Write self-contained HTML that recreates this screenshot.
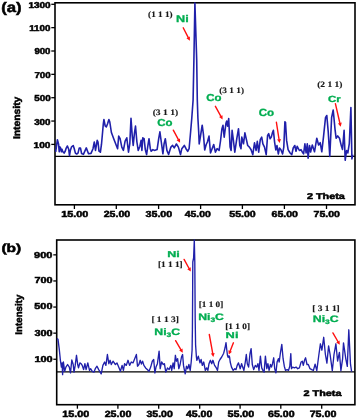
<!DOCTYPE html>
<html><head><meta charset="utf-8"><style>
html,body{margin:0;padding:0;background:#fff;}
body{width:357px;height:418px;overflow:hidden;}
svg{display:block;will-change:transform;}
</style></head><body>
<svg width="357" height="418" viewBox="0 0 357 418">
<rect width="357" height="418" fill="#fff"/>
<rect x="55" y="2.8" width="300.0" height="202.0" fill="none" stroke="#000" stroke-width="1.6"/>
<line x1="55.00" y1="156.40" x2="355.00" y2="156.40" stroke="#000" stroke-width="1.3"/>
<line x1="51.30" y1="4.30" x2="55.00" y2="4.30" stroke="#000" stroke-width="1.3"/>
<line x1="51.30" y1="27.65" x2="55.00" y2="27.65" stroke="#000" stroke-width="1.3"/>
<line x1="51.30" y1="51.00" x2="55.00" y2="51.00" stroke="#000" stroke-width="1.3"/>
<line x1="51.30" y1="74.35" x2="55.00" y2="74.35" stroke="#000" stroke-width="1.3"/>
<line x1="51.30" y1="97.70" x2="55.00" y2="97.70" stroke="#000" stroke-width="1.3"/>
<line x1="51.30" y1="121.05" x2="55.00" y2="121.05" stroke="#000" stroke-width="1.3"/>
<line x1="51.30" y1="144.40" x2="55.00" y2="144.40" stroke="#000" stroke-width="1.3"/>
<line x1="74.40" y1="205.00" x2="74.40" y2="209.00" stroke="#000" stroke-width="1.3"/>
<line x1="116.30" y1="205.00" x2="116.30" y2="209.00" stroke="#000" stroke-width="1.3"/>
<line x1="158.60" y1="205.00" x2="158.60" y2="209.00" stroke="#000" stroke-width="1.3"/>
<line x1="200.60" y1="205.00" x2="200.60" y2="209.00" stroke="#000" stroke-width="1.3"/>
<line x1="242.40" y1="205.00" x2="242.40" y2="209.00" stroke="#000" stroke-width="1.3"/>
<line x1="284.40" y1="205.00" x2="284.40" y2="209.00" stroke="#000" stroke-width="1.3"/>
<line x1="326.50" y1="205.00" x2="326.50" y2="209.00" stroke="#000" stroke-width="1.3"/>
<polyline points="55.7,151.8 57.4,139.7 58.6,144.3 59.2,151.8 59.9,146.8 60.7,148.1 61.4,151.8 62.0,149.3 62.7,151.4 64.1,153.1 65.3,151.0 66.2,148.1 67.4,146.0 68.7,149.3 69.5,155.6 70.4,150.2 71.6,146.8 73.2,145.5 74.2,148.5 75.4,153.1 76.7,154.0 78.0,153.1 79.2,148.1 80.5,148.1 81.6,153.5 83.4,154.4 86.3,147.9 88.5,153.8 91.0,153.4 93.0,148.7 94.3,142.0 95.5,150.4 97.2,140.3 98.0,142.0 99.0,151.1 100.4,152.2 101.5,144.2 102.6,132.0 103.3,124.0 103.9,119.5 105.2,126.0 106.3,127.0 107.5,124.0 108.9,119.5 109.8,122.0 111.4,132.5 114.0,139.5 117.6,148.7 118.7,136.1 120.1,138.7 121.8,147.1 123.4,150.4 125.1,141.2 126.8,137.8 128.5,152.1 129.8,143.7 131.0,118.2 132.2,135.3 133.2,145.4 134.4,133.6 135.5,126.0 136.9,142.0 138.2,150.4 139.9,146.2 141.1,140.3 141.9,150.4 142.8,137.8 144.1,138.7 145.3,149.6 146.6,154.6 147.8,146.2 149.0,138.7 150.3,148.7 151.2,151.3 152.9,149.6 154.5,150.4 157.1,149.6 158.7,138.7 159.9,131.9 161.3,142.0 162.9,153.8 164.1,143.7 165.3,138.7 166.9,150.4 168.6,154.4 170.9,147.1 172.6,145.4 174.2,147.9 176.4,144.0 178.4,147.1 180.5,154.6 181.8,148.7 184.3,145.4 186.0,148.7 187.7,151.3 189.1,148.7 190.6,132.0 191.8,118.0 193.1,100.0 193.9,60.0 194.9,3.0 196.7,60.0 197.3,100.0 197.9,118.0 198.7,132.0 199.2,143.9 200.5,136.0 202.2,125.2 203.4,134.0 204.7,150.0 206.2,144.5 207.4,142.0 209.0,136.1 210.5,153.0 212.1,148.7 213.7,144.5 215.4,152.1 217.1,148.7 219.1,150.4 220.5,141.0 221.9,129.0 223.0,125.3 224.2,137.1 225.9,123.6 226.7,121.1 227.6,126.1 228.7,118.6 230.1,147.1 231.1,150.5 232.1,130.3 233.4,140.4 234.8,152.2 236.8,138.7 238.5,128.7 239.8,145.5 241.0,148.8 241.8,137.1 243.5,143.8 244.9,132.9 246.6,140.4 247.7,145.5 249.4,147.1 251.1,149.7 252.8,154.7 254.5,142.9 256.1,150.5 257.3,141.3 258.7,152.2 260.3,139.6 261.7,137.1 262.9,143.8 264.5,147.1 266.2,154.7 267.6,135.4 268.7,133.7 270.1,138.7 271.3,137.1 272.4,132.9 273.4,130.3 274.6,142.1 275.8,150.0 277.0,145.5 278.3,154.0 279.5,148.0 280.9,149.7 282.6,153.9 283.8,147.1 284.9,121.9 285.5,122.4 286.6,140.4 288.1,149.7 290.1,153.0 291.8,154.7 293.2,148.0 294.8,145.5 296.0,151.3 297.2,146.3 299.4,150.5 301.0,149.7 302.4,152.2 303.6,153.9 304.9,143.8 306.1,153.0 307.3,143.8 308.1,158.1 309.5,145.5 310.6,152.0 312.3,145.0 314.5,151.8 316.8,138.2 318.6,145.0 320.2,142.7 321.8,151.8 323.6,135.9 325.5,117.7 326.8,115.5 328.2,131.4 329.8,156.4 331.6,117.7 333.2,110.0 335.0,129.1 336.1,138.2 337.7,135.9 339.5,138.2 341.4,146.1 342.5,149.5 344.1,130.2 345.2,160.3 346.6,150.5 347.8,153.0 349.3,143.7 350.9,107.5 351.9,158.9 352.8,154.7" fill="none" stroke="#2020aa" stroke-width="1.6" stroke-linejoin="round"/>
<line x1="183.2" y1="27.8" x2="188.16" y2="37.42" stroke="#ff1010" stroke-width="1.4" stroke-linecap="round"/>
<polygon points="189.9,40.8 186.43,38.32 189.89,36.53" fill="#ff1010"/>
<line x1="173.3" y1="130.2" x2="178.28" y2="139.36" stroke="#ff1010" stroke-width="1.4" stroke-linecap="round"/>
<polygon points="180.1,142.7 176.57,140.29 180.00,138.43" fill="#ff1010"/>
<line x1="215.4" y1="106.3" x2="220.78" y2="116.16" stroke="#ff1010" stroke-width="1.4" stroke-linecap="round"/>
<polygon points="222.6,119.5 219.07,117.10 222.49,115.23" fill="#ff1010"/>
<line x1="276.4" y1="122.3" x2="279.02" y2="139.24" stroke="#ff1010" stroke-width="1.4" stroke-linecap="round"/>
<polygon points="279.6,143.0 277.09,139.54 280.95,138.95" fill="#ff1010"/>
<line x1="335.4" y1="103.7" x2="339.85" y2="123.00" stroke="#ff1010" stroke-width="1.4" stroke-linecap="round"/>
<polygon points="340.7,126.7 337.95,123.43 341.75,122.56" fill="#ff1010"/>
<rect x="56.7" y="240" width="298.2" height="164.7" fill="none" stroke="#000" stroke-width="1.6"/>
<line x1="56.70" y1="371.80" x2="354.90" y2="371.80" stroke="#000" stroke-width="1.3"/>
<line x1="53.30" y1="254.85" x2="56.70" y2="254.85" stroke="#000" stroke-width="1.3"/>
<line x1="53.30" y1="280.95" x2="56.70" y2="280.95" stroke="#000" stroke-width="1.3"/>
<line x1="53.30" y1="307.05" x2="56.70" y2="307.05" stroke="#000" stroke-width="1.3"/>
<line x1="53.30" y1="333.15" x2="56.70" y2="333.15" stroke="#000" stroke-width="1.3"/>
<line x1="53.30" y1="359.25" x2="56.70" y2="359.25" stroke="#000" stroke-width="1.3"/>
<line x1="77.40" y1="404.70" x2="77.40" y2="408.70" stroke="#000" stroke-width="1.3"/>
<line x1="117.90" y1="404.70" x2="117.90" y2="408.70" stroke="#000" stroke-width="1.3"/>
<line x1="158.70" y1="404.70" x2="158.70" y2="408.70" stroke="#000" stroke-width="1.3"/>
<line x1="199.70" y1="404.70" x2="199.70" y2="408.70" stroke="#000" stroke-width="1.3"/>
<line x1="240.10" y1="404.70" x2="240.10" y2="408.70" stroke="#000" stroke-width="1.3"/>
<line x1="280.80" y1="404.70" x2="280.80" y2="408.70" stroke="#000" stroke-width="1.3"/>
<line x1="321.70" y1="404.70" x2="321.70" y2="408.70" stroke="#000" stroke-width="1.3"/>
<polyline points="57.0,338.5 58.0,339.3 59.2,348.6 60.4,360.3 61.4,367.1 62.1,362.9 62.6,374.6 63.4,362.0 64.7,371.3 65.9,367.1 67.6,364.5 69.3,367.1 70.5,372.9 71.8,360.0 73.2,364.5 74.0,372.1 75.2,365.4 76.5,355.3 77.7,364.5 78.5,367.9 79.9,362.9 81.1,363.7 82.2,365.4 83.6,369.6 84.9,363.7 86.1,369.6 87.8,362.9 89.5,370.4 90.6,368.7 92.3,371.3 94.0,372.1 95.3,368.7 97.0,366.2 98.7,369.6 101.2,373.8 102.9,365.4 104.6,362.0 105.9,365.4 107.4,354.5 108.8,363.7 110.1,360.3 111.3,364.5 113.0,361.2 115.4,364.5 117.0,362.9 118.7,367.1 120.4,371.3 122.1,365.4 123.4,370.4 124.6,363.7 126.3,365.4 128.0,360.3 129.6,365.4 131.3,362.0 133.0,362.9 134.7,358.7 136.4,354.5 137.5,366.2 138.9,364.5 140.2,360.3 141.4,364.0 142.6,361.2 143.9,365.4 145.6,367.9 147.3,369.6 149.0,371.3 150.7,367.1 152.3,361.2 153.7,359.5 154.9,373.0 156.0,367.1 157.4,363.7 159.1,351.1 160.2,368.7 161.6,362.0 163.3,364.5 164.4,363.7 165.8,372.1 167.5,367.9 169.1,369.6 170.8,365.4 171.7,370.4 173.1,362.9 174.2,368.7 175.4,355.3 176.4,361.2 177.6,358.7 178.8,368.7 180.1,364.5 181.5,357.0 182.6,354.5 183.5,365.4 184.3,369.6 185.2,373.8 186.5,366.2 187.7,368.7 188.9,364.5 190.2,370.4 191.2,362.0 192.1,350.0 192.4,330.0 192.6,300.0 192.8,262.0 193.6,258.0 194.3,240.0 194.8,262.0 195.2,320.0 195.6,345.0 196.4,357.0 196.9,360.3 198.3,356.1 200.0,362.9 201.1,359.5 202.3,365.4 203.7,362.0 205.3,370.4 206.7,367.9 207.9,370.4 209.0,363.7 210.4,360.3 211.7,363.7 212.9,360.3 214.6,365.4 216.3,367.9 217.5,370.4 218.7,362.0 220.0,359.5 221.7,357.0 223.7,353.2 225.0,348.0 226.0,342.6 226.8,350.0 227.5,355.5 228.2,357.5 229.0,355.8 229.6,357.0 230.2,362.0 231.5,367.1 233.2,370.4 234.8,368.7 236.0,369.6 237.2,365.4 238.5,362.9 240.2,368.7 241.6,363.7 242.7,367.1 243.9,370.4 245.3,362.0 246.3,354.5 247.3,363.7 248.6,367.1 250.0,353.6 251.1,348.6 252.3,364.5 253.7,369.6 255.3,365.4 256.7,367.1 257.9,363.7 259.0,370.4 260.4,356.1 261.7,367.9 262.9,370.4 264.1,372.1 265.4,356.1 266.8,368.7 267.9,363.7 269.1,370.4 270.5,364.5 271.5,367.1 272.5,363.7 273.7,357.8 274.7,368.7 275.9,372.9 277.1,362.0 278.4,358.7 279.2,362.0 280.4,352.8 281.8,344.4 283.1,358.7 284.3,366.2 285.5,370.4 287.1,369.6 288.5,370.4 289.8,366.2 290.8,353.6 291.5,368.7 292.7,367.1 294.4,367.9 296.1,367.1 297.7,368.7 299.4,367.9 301.1,362.0 302.3,361.2 303.3,365.4 304.5,360.3 305.6,357.8 307.0,364.5 308.3,364.5 310.0,368.7 311.7,369.6 313.4,370.4 315.1,364.2 316.8,370.7 318.9,354.5 320.4,343.8 321.9,350.2 323.7,337.3 325.4,354.5 326.9,363.1 328.6,345.9 330.1,354.5 332.3,370.7 334.0,354.5 335.9,343.8 337.6,361.0 339.4,352.4 340.9,370.7 342.6,358.8 343.5,342.9 345.8,358.8 347.3,366.4 348.8,329.8 350.5,364.2 351.6,371.7" fill="none" stroke="#2020aa" stroke-width="1.35" stroke-linejoin="round"/>
<line x1="184.1" y1="259.4" x2="188.97" y2="268.27" stroke="#ff1010" stroke-width="1.4" stroke-linecap="round"/>
<polygon points="190.8,271.6 187.26,269.21 190.68,267.33" fill="#ff1010"/>
<line x1="175.6" y1="340.7" x2="180.86" y2="349.53" stroke="#ff1010" stroke-width="1.4" stroke-linecap="round"/>
<polygon points="182.8,352.8 179.18,350.53 182.53,348.54" fill="#ff1010"/>
<line x1="209.3" y1="334.5" x2="212.72" y2="353.26" stroke="#ff1010" stroke-width="1.4" stroke-linecap="round"/>
<polygon points="213.4,357 210.80,353.61 214.64,352.91" fill="#ff1010"/>
<line x1="233.4" y1="342.8" x2="230.18" y2="351.06" stroke="#ff1010" stroke-width="1.4" stroke-linecap="round"/>
<polygon points="228.8,354.6 228.36,350.35 232.00,351.77" fill="#ff1010"/>
<line x1="332.9" y1="332.9" x2="337.89" y2="341.51" stroke="#ff1010" stroke-width="1.4" stroke-linecap="round"/>
<polygon points="339.8,344.8 336.21,342.49 339.58,340.53" fill="#ff1010"/>
<text id="a" transform="translate(1.19,11.77) scale(1.1996,1)" font-family="Liberation Sans" text-rendering="geometricPrecision" font-weight="bold" font-size="13.948" fill="#000" stroke="#000" stroke-width="0.5">(a)</text>
<text id="ya1300" transform="translate(28.42,8.01) scale(1.1756,1)" font-family="Liberation Sans" text-rendering="geometricPrecision" font-weight="bold" font-size="8.505" fill="#000" stroke="#000" stroke-width="0.5">1300</text>
<text id="ya1100" transform="translate(29.14,31.38) scale(1.1472,1)" font-family="Liberation Sans" text-rendering="geometricPrecision" font-weight="bold" font-size="8.540" fill="#000" stroke="#000" stroke-width="0.5">1100</text>
<text id="ya900" transform="translate(34.39,54.33) scale(1.1154,1)" font-family="Liberation Sans" text-rendering="geometricPrecision" font-weight="bold" font-size="8.650" fill="#000" stroke="#000" stroke-width="0.5">900</text>
<text id="ya700" transform="translate(34.40,77.65) scale(1.1464,1)" font-family="Liberation Sans" text-rendering="geometricPrecision" font-weight="bold" font-size="8.515" fill="#000" stroke="#000" stroke-width="0.5">700</text>
<text id="ya500" transform="translate(34.22,101.42) scale(1.1499,1)" font-family="Liberation Sans" text-rendering="geometricPrecision" font-weight="bold" font-size="8.570" fill="#000" stroke="#000" stroke-width="0.5">500</text>
<text id="ya300" transform="translate(34.14,124.95) scale(1.1364,1)" font-family="Liberation Sans" text-rendering="geometricPrecision" font-weight="bold" font-size="8.628" fill="#000" stroke="#000" stroke-width="0.5">300</text>
<text id="ya100" transform="translate(33.53,148.35) scale(1.1867,1)" font-family="Liberation Sans" text-rendering="geometricPrecision" font-weight="bold" font-size="8.540" fill="#000" stroke="#000" stroke-width="0.5">100</text>
<text id="xa15" transform="translate(61.29,216.68) scale(1.2370,1)" font-family="Liberation Sans" text-rendering="geometricPrecision" font-weight="bold" font-size="8.752" fill="#000" stroke="#000" stroke-width="0.5">15.00</text>
<text id="xa25" transform="translate(103.64,216.58) scale(1.1909,1)" font-family="Liberation Sans" text-rendering="geometricPrecision" font-weight="bold" font-size="8.920" fill="#000" stroke="#000" stroke-width="0.5">25.00</text>
<text id="xa35" transform="translate(145.49,216.70) scale(1.2224,1)" font-family="Liberation Sans" text-rendering="geometricPrecision" font-weight="bold" font-size="8.763" fill="#000" stroke="#000" stroke-width="0.5">35.00</text>
<text id="xa45" transform="translate(184.65,216.69) scale(1.1892,1)" font-family="Liberation Sans" text-rendering="geometricPrecision" font-weight="bold" font-size="8.780" fill="#000" stroke="#000" stroke-width="0.5">45.00</text>
<text id="xa55" transform="translate(229.27,216.63) scale(1.1903,1)" font-family="Liberation Sans" text-rendering="geometricPrecision" font-weight="bold" font-size="8.903" fill="#000" stroke="#000" stroke-width="0.5">55.00</text>
<text id="xa65" transform="translate(271.50,216.67) scale(1.2079,1)" font-family="Liberation Sans" text-rendering="geometricPrecision" font-weight="bold" font-size="8.753" fill="#000" stroke="#000" stroke-width="0.5">65.00</text>
<text id="xa75" transform="translate(313.58,216.69) scale(1.2047,1)" font-family="Liberation Sans" text-rendering="geometricPrecision" font-weight="bold" font-size="8.754" fill="#000" stroke="#000" stroke-width="0.5">75.00</text>
<text id="tha" transform="translate(306.88,199.24) scale(1.2873,1)" font-family="Liberation Sans" text-rendering="geometricPrecision" font-weight="bold" font-size="8.414" fill="#000" stroke="#000" stroke-width="0.5">2 Theta</text>
<text id="ia" transform="translate(20.07,139.05) rotate(-90) scale(1.0563,1)" font-family="Liberation Sans" text-rendering="geometricPrecision" font-weight="bold" font-size="9.750" fill="#000" stroke="#000" stroke-width="0.5">Intensity</text>
<text id="l111a" transform="translate(148.07,16.73) scale(1.1234,1)" font-family="Liberation Serif" text-rendering="geometricPrecision" font-weight="bold" font-size="8.200" fill="#1a1a1a" stroke="#1a1a1a" stroke-width="0.15">(1 1 1)</text>
<text id="Nia" transform="translate(176.12,21.67) scale(1.2958,1)" font-family="Liberation Sans" text-rendering="geometricPrecision" font-weight="bold" font-size="9.787" fill="#00ad50" stroke="#00ad50" stroke-width="0.3">Ni</text>
<text id="l311a" transform="translate(152.67,114.71) scale(1.1676,1)" font-family="Liberation Serif" text-rendering="geometricPrecision" font-weight="bold" font-size="8.200" fill="#1a1a1a" stroke="#1a1a1a" stroke-width="0.15">(3 1 1)</text>
<text id="Coa1" transform="translate(157.19,126.24) scale(1.1302,1)" font-family="Liberation Sans" text-rendering="geometricPrecision" font-weight="bold" font-size="10.144" fill="#00ad50" stroke="#00ad50" stroke-width="0.3">Co</text>
<text id="l311b" transform="translate(219.27,93.35) scale(1.1323,1)" font-family="Liberation Serif" text-rendering="geometricPrecision" font-weight="bold" font-size="8.200" fill="#1a1a1a" stroke="#1a1a1a" stroke-width="0.15">(3 1 1)</text>
<text id="Coa2" transform="translate(206.33,101.22) scale(1.1435,1)" font-family="Liberation Sans" text-rendering="geometricPrecision" font-weight="bold" font-size="10.007" fill="#00ad50" stroke="#00ad50" stroke-width="0.3">Co</text>
<text id="Coa3" transform="translate(258.63,115.96) scale(1.1135,1)" font-family="Liberation Sans" text-rendering="geometricPrecision" font-weight="bold" font-size="10.441" fill="#00ad50" stroke="#00ad50" stroke-width="0.3">Co</text>
<text id="l211" transform="translate(317.16,87.43) scale(1.1616,1)" font-family="Liberation Serif" text-rendering="geometricPrecision" font-weight="bold" font-size="8.200" fill="#1a1a1a" stroke="#1a1a1a" stroke-width="0.15">(2 1 1)</text>
<text id="Cr" transform="translate(328.10,101.96) scale(1.2850,1)" font-family="Liberation Sans" text-rendering="geometricPrecision" font-weight="bold" font-size="8.923" fill="#00ad50" stroke="#00ad50" stroke-width="0.3">Cr</text>
<text id="b" transform="translate(1.38,252.23) scale(1.3304,1)" font-family="Liberation Sans" text-rendering="geometricPrecision" font-weight="bold" font-size="11.679" fill="#000" stroke="#000" stroke-width="0.5">(b)</text>
<text id="yb900" transform="translate(34.09,257.94) scale(1.2523,1)" font-family="Liberation Sans" text-rendering="geometricPrecision" font-weight="bold" font-size="8.760" fill="#000" stroke="#000" stroke-width="0.5">900</text>
<text id="yb700" transform="translate(34.44,283.22) scale(1.2434,1)" font-family="Liberation Sans" text-rendering="geometricPrecision" font-weight="bold" font-size="8.728" fill="#000" stroke="#000" stroke-width="0.5">700</text>
<text id="yb500" transform="translate(34.34,309.49) scale(1.2517,1)" font-family="Liberation Sans" text-rendering="geometricPrecision" font-weight="bold" font-size="8.668" fill="#000" stroke="#000" stroke-width="0.5">500</text>
<text id="yb300" transform="translate(34.43,335.87) scale(1.2400,1)" font-family="Liberation Sans" text-rendering="geometricPrecision" font-weight="bold" font-size="8.774" fill="#000" stroke="#000" stroke-width="0.5">300</text>
<text id="yb100" transform="translate(34.48,362.01) scale(1.2750,1)" font-family="Liberation Sans" text-rendering="geometricPrecision" font-weight="bold" font-size="8.556" fill="#000" stroke="#000" stroke-width="0.5">100</text>
<text id="xb15" transform="translate(62.31,416.66) scale(1.1924,1)" font-family="Liberation Sans" text-rendering="geometricPrecision" font-weight="bold" font-size="9.027" fill="#000" stroke="#000" stroke-width="0.5">15.00</text>
<text id="xb25" transform="translate(104.63,416.66) scale(1.1870,1)" font-family="Liberation Sans" text-rendering="geometricPrecision" font-weight="bold" font-size="9.027" fill="#000" stroke="#000" stroke-width="0.5">25.00</text>
<text id="xb35" transform="translate(146.51,416.66) scale(1.1649,1)" font-family="Liberation Sans" text-rendering="geometricPrecision" font-weight="bold" font-size="9.033" fill="#000" stroke="#000" stroke-width="0.5">35.00</text>
<text id="xb45" transform="translate(185.93,416.66) scale(1.1701,1)" font-family="Liberation Sans" text-rendering="geometricPrecision" font-weight="bold" font-size="9.027" fill="#000" stroke="#000" stroke-width="0.5">45.00</text>
<text id="xb55" transform="translate(227.50,416.66) scale(1.1862,1)" font-family="Liberation Sans" text-rendering="geometricPrecision" font-weight="bold" font-size="9.027" fill="#000" stroke="#000" stroke-width="0.5">55.00</text>
<text id="xb65" transform="translate(268.08,416.67) scale(1.1734,1)" font-family="Liberation Sans" text-rendering="geometricPrecision" font-weight="bold" font-size="9.033" fill="#000" stroke="#000" stroke-width="0.5">65.00</text>
<text id="xb75" transform="translate(309.66,416.66) scale(1.1853,1)" font-family="Liberation Sans" text-rendering="geometricPrecision" font-weight="bold" font-size="9.027" fill="#000" stroke="#000" stroke-width="0.5">75.00</text>
<text id="thb" transform="translate(303.53,395.86) scale(1.3213,1)" font-family="Liberation Sans" text-rendering="geometricPrecision" font-weight="bold" font-size="8.218" fill="#000" stroke="#000" stroke-width="0.5">2 Theta</text>
<text id="ib" transform="translate(21.90,334.65) rotate(-90) scale(1.0102,1)" font-family="Liberation Sans" text-rendering="geometricPrecision" font-weight="bold" font-size="9.648" fill="#000" stroke="#000" stroke-width="0.5">Intensity</text>
<text id="Nib1" transform="translate(167.24,257.08) scale(1.4970,1)" font-family="Liberation Sans" text-rendering="geometricPrecision" font-weight="bold" font-size="8.382" fill="#00ad50" stroke="#00ad50" stroke-width="0.3">Ni</text>
<text id="l111b" transform="translate(157.94,266.57) scale(1.1314,1)" font-family="Liberation Serif" text-rendering="geometricPrecision" font-weight="bold" font-size="8.200" fill="#1a1a1a" stroke="#1a1a1a" stroke-width="0.15">[1 1 1]</text>
<text id="l113" transform="translate(151.38,322.03) scale(1.1502,1)" font-family="Liberation Serif" text-rendering="geometricPrecision" font-weight="bold" font-size="8.200" fill="#1a1a1a" stroke="#1a1a1a" stroke-width="0.15">[ 1 1 3]</text>
<text id="N3C1" transform="translate(154.32,334.97) scale(1.3118,1)" font-family="Liberation Sans" text-rendering="geometricPrecision" font-weight="bold" font-size="9.400" fill="#00ad50" stroke="#00ad50" stroke-width="0.3">Ni<tspan font-size="6.39" dy="2.2">3</tspan><tspan dy="-2.2">C</tspan></text>
<text id="l110a" transform="translate(198.71,307.10) scale(1.1237,1)" font-family="Liberation Serif" text-rendering="geometricPrecision" font-weight="bold" font-size="8.200" fill="#1a1a1a" stroke="#1a1a1a" stroke-width="0.15">[1 1 0]</text>
<text id="N3C2" transform="translate(198.19,320.17) scale(1.3074,1)" font-family="Liberation Sans" text-rendering="geometricPrecision" font-weight="bold" font-size="9.400" fill="#00ad50" stroke="#00ad50" stroke-width="0.3">Ni<tspan font-size="6.39" dy="2.2">3</tspan><tspan dy="-2.2">C</tspan></text>
<text id="l110b" transform="translate(225.27,328.65) scale(1.1351,1)" font-family="Liberation Serif" text-rendering="geometricPrecision" font-weight="bold" font-size="8.200" fill="#1a1a1a" stroke="#1a1a1a" stroke-width="0.15">[1 1 0]</text>
<text id="Nib2" transform="translate(225.61,337.76) scale(1.5072,1)" font-family="Liberation Sans" text-rendering="geometricPrecision" font-weight="bold" font-size="8.524" fill="#00ad50" stroke="#00ad50" stroke-width="0.3">Ni</text>
<text id="l311c" transform="translate(312.22,311.06) scale(1.1536,1)" font-family="Liberation Serif" text-rendering="geometricPrecision" font-weight="bold" font-size="8.200" fill="#1a1a1a" stroke="#1a1a1a" stroke-width="0.15">[ 3 1 1]</text>
<text id="N3C3" transform="translate(312.71,321.97) scale(1.3196,1)" font-family="Liberation Sans" text-rendering="geometricPrecision" font-weight="bold" font-size="9.400" fill="#00ad50" stroke="#00ad50" stroke-width="0.3">Ni<tspan font-size="6.39" dy="2.2">3</tspan><tspan dy="-2.2">C</tspan></text>
</svg>
</body></html>
